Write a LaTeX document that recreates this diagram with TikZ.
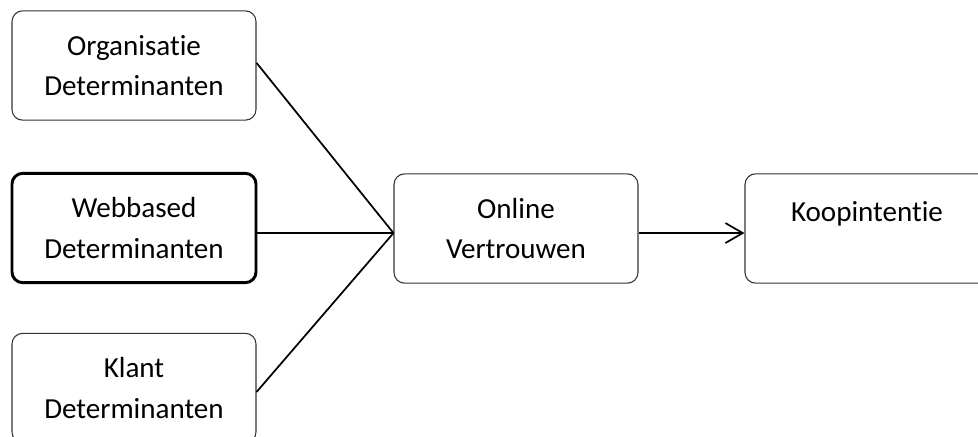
\documentclass[tikz,border=0pt]{standalone}
\usepackage{fontspec}
\setmainfont[Ligatures={NoCommon,NoContextual}]{Carlito}
\usetikzlibrary{arrows.meta}
\begin{document}
\begin{tikzpicture}[x=0.75pt,y=-0.75pt,
  box/.style={draw=black!80,line width=0.8pt,rounded corners=8pt,minimum width=183pt,minimum height=82pt,inner sep=0pt,align=center,font=\fontsize{21.8}{30.5}\selectfont},
  thickbox/.style={box,draw=black,line width=2.2pt},
  conn/.style={line width=1.3pt,black},
  lbl/.style={inner sep=0pt,font=\fontsize{21.8}{30.5}\selectfont}]
\useasboundingbox (0,0) rectangle (978,436);
\clip (0,0) rectangle (978,436);
\node[box] (org) at (134,65.5) {Organisatie\\Determinanten};
\node[thickbox] (web) at (134,228) {Webbased\\Determinanten};
\node[box] (klant) at (134,388) {Klant\\Determinanten};
\node[box] (online) at (516,228.5) {Online\\Vertrouwen};
\node[box] (koop) at (867,228.5) {};
\node[lbl] (kooptext) at (867,214) {Koopintentie};
\coordinate (hub) at ([yshift=-3.4pt]online.west);
\draw[conn] ([yshift=2pt]org.east) -- (hub);
\draw[conn] (web.east |- hub) -- (hub);
\draw[conn] ([yshift=-3pt]klant.east) -- (hub);
\draw[conn,-{Straight Barb[length=13pt,width=15pt,line width=1.3pt]}] (online.east |- hub) -- (koop.west |- hub);
\end{tikzpicture}
\end{document}
